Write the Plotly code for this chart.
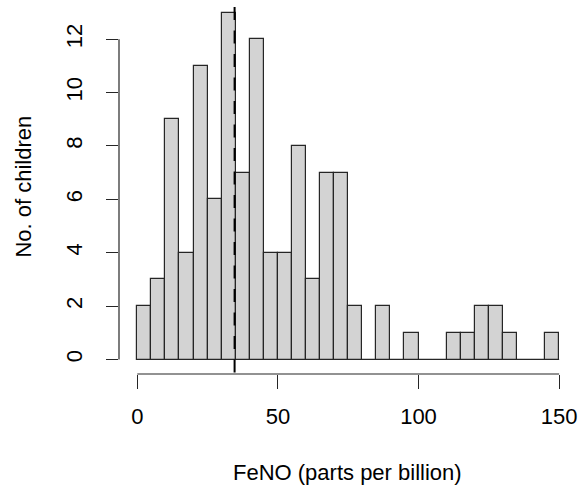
import plotly.graph_objects as go

# Histogram of exhaled nitric oxide (FeNO) readings, 5 ppb bins from 0 to 150
bin_starts = list(range(0, 150, 5))
counts = [2, 3, 9, 4, 11, 6, 13, 7, 12, 4,
          4, 8, 3, 7, 7, 2, 0, 2, 0, 1,
          0, 0, 1, 1, 2, 2, 1, 0, 0, 1]
bin_width = 5
median_feno = 34.6

x_ticks = [0, 50, 100, 150]
x_tick_labels = ["0", "50", "100", "150"]
y_ticks = [0, 2, 4, 6, 8, 10, 12]
y_tick_labels = ["0", "2", "4", "6", "8", "10", "12"]

x_title = "FeNO (parts per billion)"
y_title = "No. of children"

x_range = [-6.5, 156]
y_range = [-0.543, 13.47]

FONT = "Liberation Sans, Arial, sans-serif"
INK = "#262626"

fig = go.Figure()
fig.add_trace(go.Bar(
    x=[s + bin_width / 2 for s in bin_starts],
    y=counts,
    width=bin_width,
    marker=dict(color="#D3D3D3", line=dict(color=INK, width=1.2)),
    showlegend=False,
    hoverinfo="skip",
))

shapes = [
    # baseline under the bars (visible where a bin is empty)
    dict(type="line", xref="x", yref="y", x0=bin_starts[0], x1=bin_starts[-1] + bin_width,
         y0=0, y1=0, line=dict(color=INK, width=1.2)),
    # x axis line spanning the ticks
    dict(type="line", xref="x", yref="paper", x0=x_ticks[0], x1=x_ticks[-1],
         y0=0, y1=0, line=dict(color=INK, width=1.2)),
    # y axis line spanning the ticks
    dict(type="line", xref="paper", yref="y", x0=0, x1=0,
         y0=y_ticks[0], y1=y_ticks[-1], line=dict(color=INK, width=1.2)),
    # median marker
    dict(type="line", xref="x", yref="y", x0=median_feno, x1=median_feno,
         y0=13.21, y1=y_range[0], line=dict(color="black", width=2, dash="13px,10.5px")),
]

fig.update_layout(
    width=579, height=488,
    margin=dict(l=119, r=3, t=0, b=114, autoexpand=False),
    paper_bgcolor="white", plot_bgcolor="white",
    bargap=0,
    font=dict(family=FONT, size=22, color="black"),
    shapes=shapes,
    xaxis=dict(
        range=x_range, showgrid=False, zeroline=False, showline=False,
        tickmode="array", tickvals=x_ticks, ticktext=x_tick_labels,
        ticks="outside", ticklen=14, tickwidth=1.2, tickcolor=INK,
        ticklabelstandoff=9,
        tickfont=dict(family=FONT, size=22, color="black"),
    ),
    yaxis=dict(
        range=y_range, showgrid=False, zeroline=False, showline=False,
        tickmode="array", tickvals=y_ticks, ticktext=y_tick_labels,
        ticks="outside", ticklen=12, tickwidth=1.2, tickcolor=INK,
        tickangle=-90, ticklabelstandoff=15,
        tickfont=dict(family=FONT, size=22, color="black"),
    ),
    annotations=[
        dict(text=x_title, xref="paper", yref="paper", x=0.499, y=-0.263,
             xanchor="center", yanchor="middle", showarrow=False,
             font=dict(family=FONT, size=22, color="black")),
        dict(text=y_title, xref="paper", yref="paper", x=-0.208, y=0.501,
             xanchor="center", yanchor="middle", textangle=-90, showarrow=False,
             font=dict(family=FONT, size=22, color="black")),
    ],
)

fig.write_html("out.html")
